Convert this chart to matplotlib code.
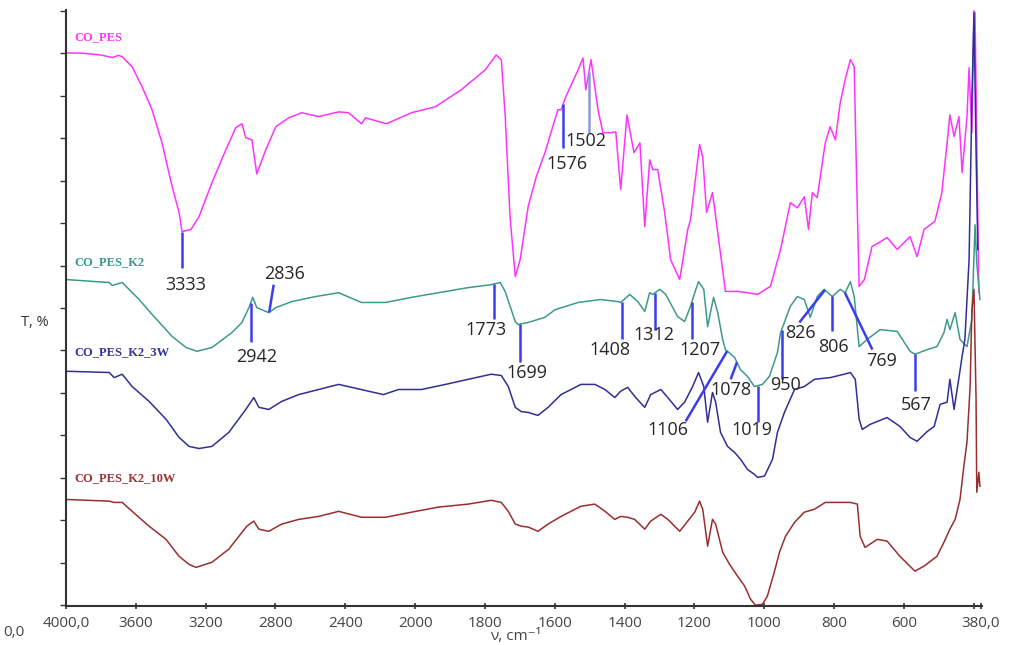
import numpy as np
import matplotlib
matplotlib.use("Agg")
import matplotlib.pyplot as plt

# FTIR spectra, wavenumber (cm-1) and stacked transmittance (arb. units)
pes_wn = [4000, 3900, 3800, 3735, 3700, 3678, 3621, 3564, 3507, 3450, 3392, 3352, 3335, 3284,
          3238, 3164, 3084, 3027, 2992, 2970, 2935, 2907, 2855, 2798, 2724, 2650, 2553, 2438,
          2381, 2307, 2284, 2164, 2021, 1942, 1868, 1799, 1768, 1753, 1742, 1728, 1713, 1699,
          1676, 1653, 1628, 1591, 1582, 1568, 1533, 1519, 1511, 1496, 1476, 1462, 1439, 1425,
          1411, 1393, 1373, 1356, 1342, 1328, 1319, 1305, 1285, 1268, 1242, 1219, 1211, 1185,
          1176, 1165, 1148, 1133, 1111, 1076, 1048, 1019, 982, 953, 925, 905, 885, 873, 862,
          848, 825, 811, 796, 782, 768, 753, 742, 736, 728, 713, 691, 671, 648, 619, 582, 562,
          542, 511, 491, 476, 468, 456, 442, 433, 419, 413, 405, 399, 396, 385]
pes_t = [130.1, 130.0, 129.6, 129.0, 129.5, 129.2, 126.8, 122.1, 116.7, 108.9, 98.6, 92.5, 88.0,
         88.5, 91.5, 99.5, 107.3, 112.5, 113.4, 110.1, 109.6, 101.6, 107.3, 112.7, 114.8, 116.0,
         115.1, 116.2, 116.0, 113.4, 114.8, 113.4, 116.0, 117.4, 121.4, 126.1, 129.6, 128.5,
         115.5, 91.5, 77.4, 81.4, 93.9, 100.9, 106.6, 116.7, 116.7, 119.8, 126.1, 128.9, 121.4,
         128.5, 116.7, 111.3, 111.3, 111.5, 97.9, 115.5, 106.6, 108.9, 89.2, 104.9, 102.6, 102.6,
         92.5, 81.4, 76.7, 88.5, 90.8, 108.5, 105.6, 92.5, 97.2, 87.8, 73.9, 73.9, 73.6, 73.2,
         75.1, 83.8, 94.8, 93.6, 96.2, 88.5, 97.2, 96.0, 108.9, 112.7, 109.6, 118.4, 123.8,
         128.5, 126.8, 103.3, 75.1, 76.7, 84.5, 85.4, 86.6, 83.8, 86.8, 82.1, 88.5, 90.4, 97.2,
         108.9, 115.5, 110.4, 115.1, 101.9, 115.1, 126.6, 111.3, 140.0, 139.5, 73.6]

k2_wn = [4000, 3752, 3735, 3678, 3581, 3507, 3392, 3312, 3250, 3164, 3050, 2992, 2952, 2930,
         2907, 2855, 2838, 2798, 2707, 2570, 2438, 2307, 2170, 2021, 1933, 1848, 1782, 1756,
         1742, 1713, 1705, 1676, 1628, 1599, 1533, 1468, 1419, 1411, 1385, 1362, 1342, 1328,
         1319, 1299, 1282, 1248, 1228, 1211, 1199, 1188, 1173, 1162, 1145, 1133, 1119, 1111,
         1085, 1068, 1048, 1028, 1005, 985, 962, 953, 925, 905, 885, 868, 848, 828, 805, 782,
         768, 753, 742, 728, 705, 668, 619, 582, 568, 533, 505, 485, 476, 468, 453, 439, 419,
         405, 396, 391, 382]
k2_t = [76.7, 76.0, 75.3, 76.0, 72.0, 68.5, 63.3, 60.7, 59.8, 60.7, 64.2, 66.6, 70.1, 72.5,
        70.1, 69.2, 68.9, 70.1, 71.5, 72.7, 73.6, 71.3, 71.3, 72.5, 73.6, 74.8, 75.5, 76.0, 73.9,
        66.8, 66.1, 66.6, 67.8, 69.6, 71.3, 72.0, 71.5, 71.3, 73.2, 71.5, 69.2, 73.6, 73.2, 74.4,
        73.2, 68.0, 66.8, 70.4, 73.6, 76.2, 74.4, 65.6, 72.5, 68.9, 62.6, 60.2, 58.4, 55.5, 53.9,
        51.5, 52.0, 53.9, 59.5, 64.2, 70.4, 72.7, 72.0, 67.8, 72.7, 74.4, 72.7, 74.4, 73.6, 76.2,
        72.7, 60.9, 62.6, 64.9, 64.5, 59.8, 59.1, 60.2, 60.9, 64.2, 67.3, 64.9, 68.9, 62.6, 60.9,
        67.3, 89.6, 80.7, 72.0]

w3_wn = [4000, 3752, 3724, 3678, 3621, 3524, 3427, 3352, 3295, 3238, 3164, 3067, 2970, 2924,
         2895, 2838, 2764, 2667, 2553, 2438, 2341, 2267, 2181, 2095, 1982, 1913, 1848, 1782,
         1753, 1733, 1713, 1696, 1676, 1648, 1619, 1582, 1525, 1485, 1456, 1428, 1411, 1391,
         1368, 1342, 1325, 1296, 1276, 1248, 1228, 1205, 1188, 1173, 1162, 1148, 1139, 1125,
         1105, 1085, 1068, 1048, 1028, 1019, 999, 976, 962, 942, 913, 885, 856, 811, 771, 753,
         739, 728, 719, 696, 648, 611, 582, 562, 533, 513, 496, 476, 468, 456, 442, 433, 425,
         413, 405, 399, 393, 388]
w3_t = [55.1, 54.8, 53.6, 54.4, 51.5, 48.0, 43.8, 39.5, 37.4, 36.9, 37.4, 40.7, 46.1, 48.9,
        46.6, 46.1, 48.0, 49.6, 50.8, 52.0, 51.1, 50.4, 49.6, 50.8, 50.8, 52.0, 53.2, 54.4, 54.1,
        51.5, 46.6, 45.6, 45.4, 44.7, 46.6, 49.6, 52.0, 52.0, 50.8, 48.9, 50.4, 51.3, 48.9, 46.6,
        49.6, 50.8, 48.9, 46.1, 47.8, 51.5, 54.8, 51.5, 43.1, 50.1, 47.8, 40.7, 37.4, 36.0, 34.4,
        32.0, 30.8, 30.1, 30.4, 34.4, 40.7, 45.4, 50.8, 51.5, 53.2, 53.6, 54.4, 54.8, 53.2, 43.8,
        41.4, 42.6, 44.2, 42.1, 39.5, 38.6, 40.9, 42.1, 47.3, 47.8, 53.2, 46.1, 53.6, 58.6, 62.6,
        81.4, 119.0, 139.5, 107.0, 83.8]

w10_wn = [4000, 3752, 3724, 3678, 3621, 3524, 3427, 3352, 3295, 3255, 3164, 3067, 2964, 2924,
          2895, 2838, 2764, 2667, 2553, 2438, 2307, 2170, 2021, 1933, 1848, 1782, 1753, 1733,
          1713, 1696, 1676, 1648, 1619, 1582, 1525, 1485, 1456, 1428, 1411, 1391, 1371, 1342,
          1325, 1296, 1276, 1242, 1219, 1199, 1185, 1176, 1162, 1148, 1139, 1119, 1099, 1076,
          1056, 1039, 1025, 1005, 991, 971, 956, 939, 913, 885, 856, 825, 782, 753, 733, 725,
          711, 676, 648, 611, 568, 542, 505, 485, 468, 453, 439, 428, 419, 410, 405, 399, 393,
          391, 385, 382]
w10_t = [24.9, 24.5, 24.2, 24.2, 22.1, 18.6, 15.5, 11.5, 9.6, 8.9, 10.1, 13.2, 18.6, 19.8, 17.9,
         17.4, 19.1, 20.2, 20.9, 22.1, 20.7, 20.7, 21.9, 23.1, 23.8, 24.7, 24.2, 22.1, 19.1, 18.6,
         18.4, 17.4, 19.1, 20.9, 23.3, 23.8, 22.1, 20.2, 20.9, 20.7, 20.2, 17.9, 19.8, 21.4, 20.2,
         17.4, 19.8, 21.9, 24.5, 22.6, 13.9, 20.2, 19.1, 12.5, 9.6, 6.8, 4.5, 1.4, 0.0, 0.2, 2.1,
         7.8, 12.5, 16.2, 19.5, 21.9, 22.6, 24.2, 24.2, 24.2, 23.8, 16.2, 13.6, 15.5, 15.1, 11.5,
         8.0, 9.2, 11.5, 14.8, 17.9, 20.2, 24.9, 32.7, 38.4, 51.5, 69.6, 74.4, 48.5, 26.6, 31.3,
         28.0]

samples = ["CO_PES", "CO_PES_K2", "CO_PES_K2_3W", "CO_PES_K2_10W"]
colors = ["#ff33ff", "#3d9a8b", "#2f2f97", "#9a2e2e"]
label_colors = ["#ff33ff", "#339988", "#333399", "#993333"]
label_y = [133.9, 80.7, 59.5, 29.9]

# assigned bands and which spectrum each one is marked on
peaks = [3333, 2942, 2836, 1773, 1699, 1576, 1502, 1408, 1312, 1207, 1106, 1078, 1019,
         950, 826, 806, 769, 567]
peak_on = [0, 1, 1, 1, 1, 0, 0, 1, 1, 1, 1, 1, 1, 1, 1, 1, 1, 1]

# leader end point and label centre (wavenumber, T) for each band
leader_end = [(3333, 79.5), (2942, 62.1), (2810, 75.5), (1773, 67.3), (1699, 57.2),
              (1576, 107.8), (1502, 111.3), (1408, 62.6), (1312, 64.9), (1207, 62.6),
              (1225, 43.3), (1096, 53.2), (1019, 43.1), (950, 53.2), (899, 66.6),
              (806, 64.5), (690, 60.2), (567, 50.4)]
label_pos = [(3312, 75.5), (2907, 58.4), (2747, 77.9), (1796, 64.7), (1679, 54.6),
             (1565, 104.0), (1511, 109.4), (1442, 60.2), (1316, 63.6), (1185, 60.2),
             (1276, 41.2), (1096, 50.8), (1036, 41.2), (939, 51.8), (896, 64.2),
             (802, 60.9), (665, 57.6), (565, 47.1)]

xticks = [4000, 3600, 3200, 2800, 2400, 2000, 1800, 1600, 1400, 1200, 1000, 800, 600, 400, 380]
xtick_labels = ["4000,0", "3600", "3200", "2800", "2400", "2000", "1800", "1600", "1400",
                "1200", "1000", "800", "600", "", "380,0"]


# above 2000 cm-1 the axis is compressed by a factor of two
def fwd(w):
    w = np.asarray(w, dtype=float)
    return np.where(w > 2000, 2000 + (w - 2000) * 0.5, w)


def inv(p):
    p = np.asarray(p, dtype=float)
    return np.where(p > 2000, 2000 + (p - 2000) * 2.0, p)


W, H = 1016, 645
fig = plt.figure(figsize=(W / 100, H / 100), dpi=100)
ax = fig.add_axes([66 / W, 1 - 606 / H, (982 - 66) / W, (606 - 10) / H])
ax.set_xscale("function", functions=(fwd, inv))

spectra = [(pes_wn, pes_t), (k2_wn, k2_t), (w3_wn, w3_t), (w10_wn, w10_t)]
for (wn, t), c in zip(spectra, colors):
    ax.plot(wn, t, color=c, lw=1.1, clip_on=False)

for name, c, y in zip(samples, label_colors, label_y):
    ax.text(3950, y, name, color=c, fontsize=9, fontweight="bold",
            family="Liberation Serif", ha="left", va="center")

for p, k, (ex, ey), (tx, ty) in zip(peaks, peak_on, leader_end, label_pos):
    wn, t = spectra[k]
    top = np.interp(p, wn[::-1], t[::-1])
    lc = "#8d98d6" if p == 1502 else "#3c3cf0"
    ax.plot([p, ex], [top, ey], color=lc, lw=1.8, solid_capstyle="butt")
    ax.text(tx, ty, str(p), ha="center", va="center", fontsize=13,
            family="Open Sans", color="#262626")

ax.set_xlim(4000, 376)
ax.set_ylim(-0.2, 140.2)
ax.set_xticks(xticks)
ax.set_xticklabels(xtick_labels)
ax.set_yticks(np.arange(0, 141, 10))
ax.set_yticklabels([])
ax.minorticks_off()
ax.tick_params(axis="x", direction="inout", length=4, width=1.2, color="#333333",
               labelsize=11, labelcolor="#444444", pad=5)
ax.tick_params(axis="y", direction="out", length=4, width=1.0, color="#333333")
for lbl in ax.get_xticklabels():
    lbl.set_family("Open Sans")
for s in ["top", "right"]:
    ax.spines[s].set_visible(False)
for s in ["left", "bottom"]:
    ax.spines[s].set_color("#333333")
    ax.spines[s].set_linewidth(1.5)

fig.text(35 / W, 1 - 322 / H, "T, %", fontsize=10.5, family="Open Sans",
         color="#333333", ha="center", va="center")
fig.text(516 / W, 1 - 637 / H, "ν, cm⁻¹", fontsize=11, family=["Open Sans", "DejaVu Sans"],
         color="#444444", ha="center", va="center")
fig.text(25 / W, 1 - 632 / H, "0,0", fontsize=11, family="Open Sans",
         color="#444444", ha="right", va="center")

fig.savefig("out.png", dpi=100)
